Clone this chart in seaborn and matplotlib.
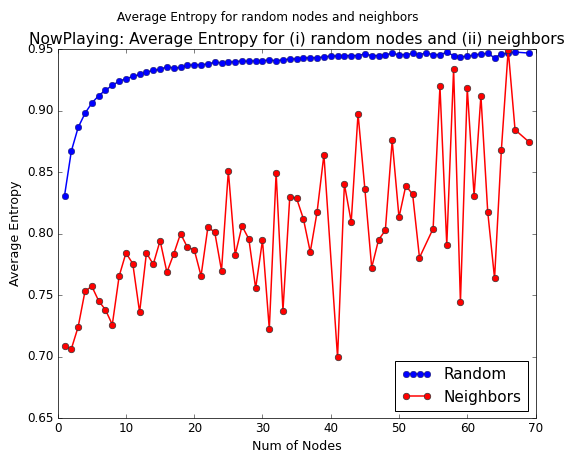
import matplotlib
matplotlib.use("Agg")
import matplotlib.pyplot as plt
from matplotlib.legend_handler import HandlerLine2D
import pandas as pd
import seaborn as sns

# Average entropy over random node samples, by sample size
random_nodes = list(range(1, 68)) + [69]
random_entropy = [
    0.8308, 0.8671, 0.8863, 0.8977, 0.9061, 0.9120, 0.9166, 0.9204, 0.9239, 0.9258,
    0.9277, 0.9293, 0.9312, 0.9326, 0.9334, 0.9356, 0.9345, 0.9350, 0.9367, 0.9372,
    0.9370, 0.9380, 0.9391, 0.9388, 0.9392, 0.9397, 0.9403, 0.9400, 0.9404, 0.9405,
    0.9410, 0.9405, 0.9412, 0.9418, 0.9420, 0.9428, 0.9428, 0.9429, 0.9435, 0.9443,
    0.9443, 0.9446, 0.9446, 0.9446, 0.9461, 0.9446, 0.9446, 0.9454, 0.9464, 0.9454,
    0.9454, 0.9464, 0.9454, 0.9469, 0.9453, 0.9453, 0.9474, 0.9446, 0.9437, 0.9440,
    0.9451, 0.9459, 0.9464, 0.9429, 0.9459, 0.9467, 0.9475, 0.9467,
]

# Average entropy over neighbor sets, by number of nodes
neighbor_nodes = (list(range(1, 40)) + list(range(41, 54))
                  + list(range(55, 68)) + [69])
neighbor_entropy = [
    0.7085, 0.7064, 0.7243, 0.7532, 0.7572, 0.7454, 0.7381, 0.7261, 0.7654, 0.7843,
    0.7756, 0.7361, 0.7843, 0.7751, 0.7943, 0.7686, 0.7835, 0.8000, 0.7889, 0.7870,
    0.7657, 0.8051, 0.8014, 0.7700, 0.8509, 0.7827, 0.8062, 0.7957, 0.7556, 0.7946,
    0.7224, 0.8495, 0.7375, 0.8300, 0.8287, 0.8119, 0.7851, 0.8176, 0.8641,
    0.6994, 0.8403, 0.8095, 0.8974, 0.8363, 0.7724, 0.7949, 0.8027, 0.8757, 0.8132,
    0.8390, 0.8319, 0.7805,
    0.8041, 0.9196, 0.7908, 0.9337, 0.7442, 0.9183, 0.8308, 0.9120, 0.8176, 0.7637,
    0.8682, 0.9494, 0.8844,
    0.8747,
]

x_ticks = [0, 10, 20, 30, 40, 50, 60, 70]
y_ticks = [0.65, 0.70, 0.75, 0.80, 0.85, 0.90, 0.95]

plt.style.use("classic")

df_random = pd.DataFrame({"nodes": random_nodes, "entropy": random_entropy})
df_neigh = pd.DataFrame({"nodes": neighbor_nodes, "entropy": neighbor_entropy})

fig = plt.figure(figsize=(564 / 72, 455 / 72), dpi=72, facecolor="white")
ax = fig.add_axes([0.1023, 0.0807, 0.8472, 0.8116])

sns.lineplot(data=df_random, x="nodes", y="entropy", ax=ax, color="blue",
             marker="o", markersize=6.5, markeredgecolor="#1a1a5a",
             markeredgewidth=0.5, linewidth=1.5, label="Random")
sns.lineplot(data=df_neigh, x="nodes", y="entropy", ax=ax, color="red",
             marker="o", markersize=6.5, markeredgecolor="#333333",
             markeredgewidth=0.7, linewidth=1.5, label="Neighbors")

ax.set_xlim(0, 70)
ax.set_ylim(0.65, 0.95)
ax.set_xticks(x_ticks)
ax.set_yticks(y_ticks)
ax.set_yticklabels([f"{v:.2f}" for v in y_ticks])
for spine in ax.spines.values():
    spine.set_color("#444444")
ax.set_xlabel("Num of Nodes", fontsize=12.6)
ax.set_ylabel("Average Entropy", fontsize=12.6)
ax.set_title("NowPlaying: Average Entropy for (i) random nodes and (ii) neighbors",
             fontsize=15.5)
fig.suptitle("Average Entropy for random nodes and neighbors", fontsize=12,
             x=0.475, y=0.975)

handles, labels = ax.get_legend_handles_labels()
ax.legend(handles, labels, loc="lower right", fontsize=15.2,
          handler_map={handles[0]: HandlerLine2D(numpoints=4),
                       handles[1]: HandlerLine2D(numpoints=2)})

fig.savefig("out.png", dpi=72, facecolor="white")
